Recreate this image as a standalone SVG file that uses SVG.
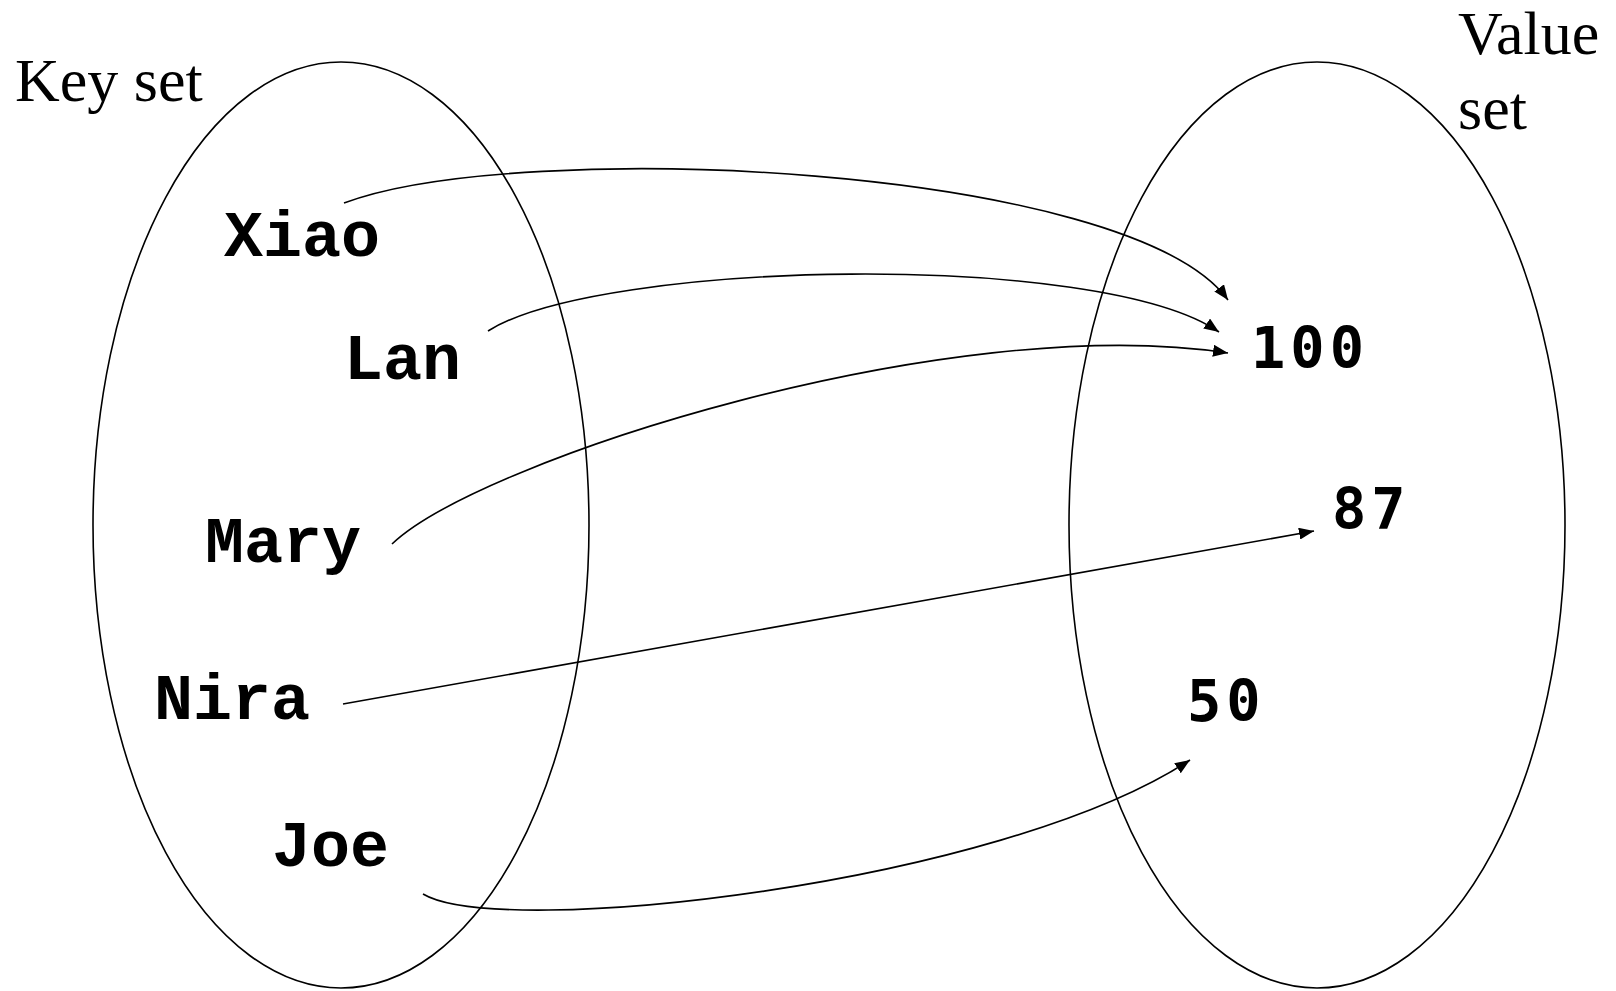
<svg xmlns="http://www.w3.org/2000/svg" width="1616" height="991" viewBox="0 0 1616 991">
  <style>
    .set { fill: none; stroke: #000; stroke-width: 1.6; }
    .title { font-family: "Liberation Serif", "Times New Roman", serif; font-size: 62px; fill: #000; }
    .key { font-family: "Liberation Mono", "Courier New", monospace; font-weight: bold; font-size: 65px; fill: #000; }
    .val { font-family: "DejaVu Sans Mono", monospace; font-weight: bold; font-size: 57px; letter-spacing: 5px; fill: #000; }
    .edge { fill: none; stroke: #000; stroke-width: 1.6; marker-end: url(#arrow); }
  </style>
  <defs>
    <marker id="arrow" markerUnits="userSpaceOnUse" markerWidth="15" markerHeight="12" refX="15" refY="6" orient="auto">
      <path d="M0,0 L15,6 L0,12 z" fill="#000"/>
    </marker>
  </defs>
  <rect width="1616" height="991" fill="#fff"/>

  <!-- the two sets -->
  <g id="key-set">
    <ellipse class="set" cx="341" cy="525" rx="248" ry="463"/>
    <text class="title" x="15" y="101">Key set</text>
  </g>
  <g id="value-set">
    <ellipse class="set" cx="1317" cy="525" rx="248" ry="463"/>
    <text class="title" x="1458" y="54">Value</text>
    <text class="title" x="1458" y="129">set</text>
  </g>

  <!-- keys -->
  <g id="key-xiao"><text class="key" x="224" y="256">Xiao</text></g>
  <g id="key-lan"><text class="key" x="344" y="379">Lan</text></g>
  <g id="key-mary"><text class="key" x="205" y="562">Mary</text></g>
  <g id="key-nira"><text class="key" x="154" y="719">Nira</text></g>
  <g id="key-joe"><text class="key" x="272" y="866">Joe</text></g>

  <!-- values -->
  <g id="val-100"><text class="val" x="1251" y="368">100</text></g>
  <g id="val-87"><text class="val" x="1332" y="529">87</text></g>
  <g id="val-50"><text class="val" x="1187" y="721">50</text></g>

  <!-- mappings -->
  <g id="connectors">
    <path class="edge" d="M344,203 C520,137 1130,165 1228,300"/>
    <path class="edge" d="M488,331 C600,260 1100,250 1219,332"/>
    <path class="edge" d="M392,544 C480,460 950,310 1228,353"/>
    <path class="edge" d="M343,704 L1314,531"/>
    <path class="edge" d="M423,894 C500,940 1000,885 1190,760"/>
  </g>
</svg>
